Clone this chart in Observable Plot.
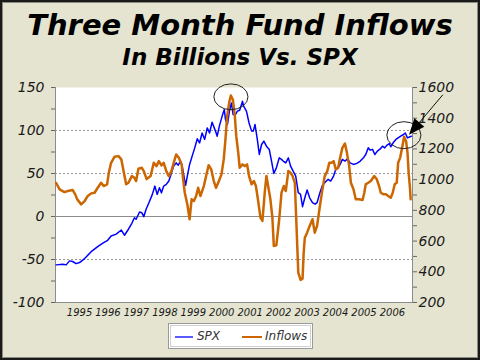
<!DOCTYPE html>
<html><head><meta charset="utf-8">
<script src="https://cdn.jsdelivr.net/npm/d3@7"></script>
<script src="https://cdn.jsdelivr.net/npm/@observablehq/plot@0.6"></script>
<style>
body{margin:0;background:#fff;}
#wrap{position:relative;width:480px;height:360px;background:#E5E4D0;overflow:hidden;font-family:"DejaVu Sans",Verdana,sans-serif;}
#border{position:absolute;left:0;top:0;width:480px;height:360px;box-sizing:border-box;border:2px solid #1a1a1a;box-shadow:inset 0 0 0 1px #8a8a80;pointer-events:none;z-index:5;}
.ttl{position:absolute;left:0;width:480px;text-align:center;font-weight:bold;font-style:italic;color:#000;white-space:nowrap;line-height:normal;}
#title{top:8px;font-size:29px;}
#subtitle{top:44px;font-size:23px;}
#chart{position:absolute;left:0;top:75px;}
#legend{position:absolute;left:168px;top:323px;width:145px;height:26px;box-sizing:border-box;background:#fff;border:1px solid #9a9a9a;box-shadow:inset 0 0 0 1px #fff, inset 0 0 0 2px #d0d0d0;z-index:3;}
.sw{position:absolute;top:12px;height:2px;}
.lt{position:absolute;top:5px;font-size:12px;font-style:italic;color:#333;line-height:14px;}
</style>
</head>
<body>
<div id="wrap">
  <div id="title" class="ttl"></div>
  <div id="subtitle" class="ttl"></div>
  <div id="chart"></div>
  <div id="legend"></div>
  <div id="border"></div>
</div>
<script>
// ---- text ----
const titleText = "Three Month Fund Inflows";
const subtitleText = "In Billions Vs. SPX";
const seriesNames = ["SPX", "Inflows"];
const seriesColors = ["#0000FF", "#CC6600"];

// ---- tick labels ----
const xTicks = [1995, 1996, 1997, 1998, 1999, 2000, 2001, 2002, 2003, 2004, 2005, 2006];
const leftTicks = [-100, -75, -50, -25, 0, 25, 50, 75, 100, 125, 150];
const rightTicks = [200, 300, 400, 500, 600, 700, 800, 900, 1000, 1100, 1200, 1300, 1400, 1500, 1600];
const gridLines = [-50, 50, 100];

// ---- Inflows (billions, left axis) ----
const flowYears = [1994.18,1994.30,1994.47,1994.59,1994.76,1994.85,1994.92,1995.06,1995.18,1995.29,1995.41,1995.53,1995.64,1995.76,1995.85,1995.97,
1996.03,1996.11,1996.23,1996.37,1996.47,1996.56,1996.64,1996.72,1996.84,1996.93,1996.99,1997.07,1997.19,1997.26,1997.36,1997.50,1997.61,1997.71,1997.79,1997.88,1997.96,
1998.05,1998.14,1998.23,1998.31,1998.40,1998.49,1998.59,1998.63,1998.70,1998.79,1998.87,1998.94,1999.02,1999.10,1999.17,1999.25,1999.37,1999.45,1999.54,1999.63,1999.72,1999.80,1999.90,1999.99,
2000.07,2000.13,2000.19,2000.27,2000.32,2000.39,2000.46,2000.51,2000.58,2000.63,2000.73,2000.81,2000.89,2000.96,2001.05,2001.13,2001.20,2001.28,2001.36,2001.43,2001.51,2001.57,2001.63,2001.71,2001.78,2001.83,2001.92,
2002.02,2002.10,2002.18,2002.25,2002.34,2002.42,2002.49,2002.57,2002.60,2002.65,2002.69,2002.77,2002.84,2002.88,2002.92,2003.00,2003.09,2003.19,2003.27,2003.35,2003.45,2003.54,2003.62,2003.71,2003.78,2003.86,2003.93,
2004.01,2004.09,2004.16,2004.24,2004.33,2004.40,2004.48,2004.54,2004.63,2004.71,2004.83,2004.95,2005.01,2005.06,2005.15,2005.24,2005.36,2005.45,2005.53,2005.59,2005.69,2005.77,2005.85,2005.94,
2006.01,2006.08,2006.15,2006.20,2006.27,2006.35,2006.41,2006.48,2006.53,2006.57,2006.62,2006.64];
const flowValues = [39,31.5,28.4,29.6,30.7,25.7,19.9,14.1,18,23.8,26.9,27.6,33.4,39.2,35.4,37.4,
50.8,62.4,69.4,70.2,66.4,50.8,37.4,39.2,47,45,41.2,55.5,56.6,52.8,43.5,47,62.4,58.6,64.4,59.4,62.4,
52.8,47,52.8,62.4,72.2,68.2,60.6,47,27.6,14.2,-3.2,20,18,23.8,33.4,23.8,35.4,47,59.7,54.8,41.2,33.4,41.2,49,
66.4,89.6,116.6,134,140.6,136,116.6,93.4,74,56.6,60.6,58.6,60.6,47,37.4,41.2,35.4,18,-1.4,-5.2,27.6,47,35.4,20,-1.4,-34.2,-33.4,
-3.2,27.6,35.4,29.6,52.8,50.8,47,39.2,12.2,-30.4,-65.2,-73.7,-72.2,-42,-24.6,-18.8,-11,-3.2,-18.8,-11,12.2,31.6,47,52.8,62.4,62.4,64.4,
54.8,56.6,68.2,79.8,84.9,74,58.6,39.2,31.6,20,20,19.1,27.6,37.4,39.2,41.2,47,43.2,35.4,27.6,25.8,25.8,23.8,21.8,
27.6,37.4,39.2,62.4,68.2,81.8,92.6,87.6,74,50.8,31.6,20];

// ---- SPX (index points, right axis) ----
const spxYears = [1994.18,1994.41,1994.53,1994.65,1994.76,1994.88,1995.00,1995.18,1995.41,1995.64,1995.82,1995.99,
1996.11,1996.29,1996.47,1996.58,1996.72,1996.84,1996.93,1996.99,1997.11,1997.19,1997.26,1997.34,1997.44,1997.56,1997.65,1997.73,1997.81,1997.88,1997.96,
1998.05,1998.14,1998.23,1998.31,1998.40,1998.47,1998.55,1998.61,1998.67,1998.73,1998.79,1998.87,1998.96,1999.05,1999.14,1999.22,1999.31,1999.40,1999.49,1999.57,1999.66,1999.78,1999.84,1999.92,
2000.02,2000.09,2000.13,2000.20,2000.27,2000.34,2000.40,2000.48,2000.55,2000.63,2000.73,2000.77,2000.87,2000.96,2001.05,2001.11,2001.17,2001.25,2001.32,2001.40,2001.48,2001.57,2001.67,2001.75,2001.83,2001.92,
2002.02,2002.10,2002.16,2002.25,2002.34,2002.42,2002.51,2002.60,2002.69,2002.77,2002.84,2002.92,2003.00,2003.09,2003.19,2003.28,2003.35,2003.45,2003.54,2003.62,2003.74,2003.83,2003.93,
2004.01,2004.09,2004.16,2004.24,2004.33,2004.42,2004.51,2004.63,2004.75,2004.87,2004.98,2005.06,2005.15,2005.22,2005.30,2005.38,2005.47,2005.57,2005.65,2005.73,2005.80,2005.89,2005.94,
2006.04,2006.12,2006.20,2006.29,2006.39,2006.45,2006.53,2006.62,2006.67];
const spxValues = [445,449,445,471,467,453,460,486,531,564,586,605,
633,645,672,638,677,716,752,742,789,785,759,807,850,904,958,904,947,914,958,
969,991,1041,1088,1109,1094,1121,1088,1023,963,1023,1099,1153,1207,1266,1239,1304,1262,1337,1304,1374,1316,1283,1352,
1417,1457,1392,1359,1446,1499,1424,1424,1446,1452,1510,1478,1445,1369,1316,1316,1359,1262,1164,1229,1251,1218,1197,1121,1041,1077,
1142,1132,1121,1109,1142,1088,1056,1023,915,904,824,882,932,882,850,840,850,915,963,980,1002,991,1023,
1067,1077,1099,1132,1121,1135,1109,1099,1106,1121,1142,1164,1207,1192,1197,1164,1186,1200,1218,1207,1223,1235,1214,
1244,1262,1272,1283,1294,1304,1272,1279,1283];

// ---- annotations (data units) ----
const circles = [
  {t: 2000.34, v: 138.6, dt: 0.60, dv: 15.0},
  {t: 2006.42, v: 94.0, dt: 0.60, dv: 15.7}
];
const arrowFrom = {t: 2007.79, v: 141};
const arrowTo = {t: 2006.60, v: 94.5};

// right axis (SPX) mapped onto left axis (billions)
const spxToLeft = s => (s - 200) / 5.6 - 100;
const leftToSpx = v => Math.round((v + 100) * 5.6 + 200);

document.getElementById("title").textContent = titleText;
document.getElementById("subtitle").textContent = subtitleText;

const flow = flowYears.map((t, i) => ({t, v: flowValues[i]}));
const spx = spxYears.map((t, i) => ({t, v: spxToLeft(spxValues[i])}));

const chart = Plot.plot({
  width: 480, height: 260,
  marginLeft: 55, marginRight: 68, marginTop: 12, marginBottom: 33,
  x: {domain: [1994.156, 2006.705], label: null},
  y: {domain: [-100, 150], label: null},
  style: {background: "transparent", fontFamily: "'DejaVu Sans', Verdana, sans-serif", fontStyle: "italic", color: "#1a1a1a", overflow: "visible"},
  marks: [
    Plot.frame({fill: "white", stroke: null}),
    Plot.ruleY(gridLines, {stroke: "#9a9a9a", strokeDasharray: "2,2"}),
    Plot.ruleY([0], {stroke: "#8c8c8c"}),
    Plot.frame({anchor: "left", stroke: "#8c8c8c"}),
    Plot.frame({anchor: "right", stroke: "#8c8c8c"}),
    Plot.frame({anchor: "bottom", stroke: "#8c8c8c"}),
    Plot.axisX({ticks: xTicks, tickFormat: d => String(d), tickSize: 0, tickPadding: 6, fontSize: 10, label: null}),
    Plot.axisY({anchor: "left", ticks: leftTicks, tickFormat: d => (d % 50 === 0 ? String(d) : ""), tickSize: 4, tickPadding: 7, fontSize: 14, stroke: "#666", label: null}),
    Plot.axisY({anchor: "right", ticks: rightTicks.map(spxToLeft), tickFormat: v => { const s = leftToSpx(v); return s % 200 === 0 ? String(s) : ""; }, tickSize: 4, tickPadding: 2, fontSize: 14, stroke: "#666", label: null}),
    Plot.line(spx, {x: "t", y: "v", stroke: seriesColors[0], strokeWidth: 1.5}),
    Plot.line(flow, {x: "t", y: "v", stroke: seriesColors[1], strokeWidth: 2.5})
  ]
});
document.getElementById("chart").appendChild(chart);

// annotations using the chart's scales
const sx = chart.scale("x"), sy = chart.scale("y");
const svg = d3.select(chart);
const g = svg.append("g");
circles.forEach(c => {
  const cx = sx.apply(c.t), cy = sy.apply(c.v);
  g.append("ellipse").attr("cx", cx).attr("cy", cy)
    .attr("rx", sx.apply(c.t + c.dt) - cx).attr("ry", cy - sy.apply(c.v + c.dv))
    .attr("fill", "none").attr("stroke", "#222").attr("stroke-width", 1);
});
{
  const x1 = sx.apply(arrowFrom.t), y1 = sy.apply(arrowFrom.v);
  const x2 = sx.apply(arrowTo.t), y2 = sy.apply(arrowTo.v);
  const dx = x2 - x1, dy = y2 - y1, len = Math.hypot(dx, dy);
  const ux = dx / len, uy = dy / len, hl = 16, hw = 6.5;
  const bx = x2 - ux * hl, by = y2 - uy * hl;
  g.append("line").attr("x1", x1).attr("y1", y1).attr("x2", bx).attr("y2", by)
    .attr("stroke", "#111").attr("stroke-width", 1);
  g.append("path").attr("d", `M${x2},${y2}L${bx - uy * hw},${by + ux * hw}L${bx + uy * hw},${by - ux * hw}Z`)
    .attr("fill", "#000");
}

// legend
const legend = document.getElementById("legend");
const legendPos = [{sw: 6, sww: 18, tx: 28}, {sw: 73, sww: 20, tx: 96}];
seriesNames.forEach((name, i) => {
  const sw = document.createElement("div");
  sw.className = "sw";
  sw.style.left = legendPos[i].sw + "px";
  sw.style.width = legendPos[i].sww + "px";
  sw.style.background = i === 0 ? "#5a5aff" : seriesColors[1];
  legend.appendChild(sw);
  const t = document.createElement("div");
  t.className = "lt";
  t.style.left = legendPos[i].tx + "px";
  t.textContent = name;
  legend.appendChild(t);
});
</script>
</body></html>
